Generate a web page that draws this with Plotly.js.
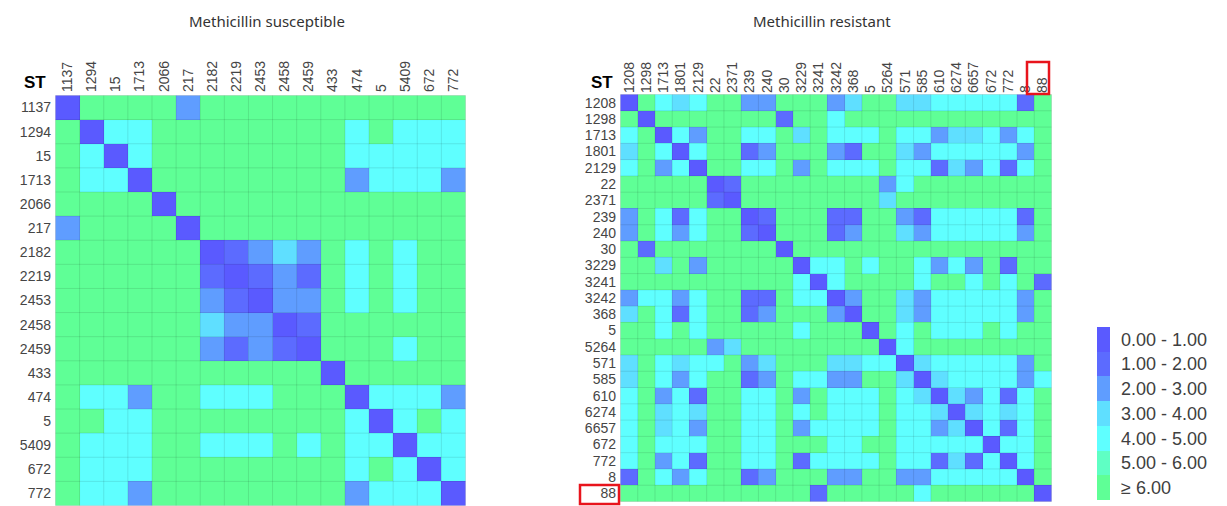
<!DOCTYPE html>
<html>
<head>
<meta charset="utf-8">
<script src="https://cdn.plot.ly/plotly-3.0.1.min.js"></script>
<style>html,body{margin:0;padding:0;background:#fff;}#chart{width:1227px;height:506px;}</style>
</head>
<body>
<div id="chart"></div>
<script>
// Distance classes: 0 = 0.00-1.00, 1 = 1.00-2.00, ..., 5 = 5.00-6.00, 6 = >= 6.00
const binLabels = ["0.00 - 1.00","1.00 - 2.00","2.00 - 3.00","3.00 - 4.00","4.00 - 5.00","5.00 - 6.00","\u2265 6.00"];
const binColors = ["#5a5aff","#5c6bff","#5f9dff","#5fdfff","#5fffff","#5fffc4","#5fff96"];
const legendBins = [[0],[1],[2],[3],[4],[5],[6]];

const msST = ["1137","1294","15","1713","2066","217","2182","2219","2453","2458","2459","433","474","5","5409","672","772"];
const msBins = [
  [0,6,6,6,6,2,6,6,6,6,6,6,6,6,6,6,6],
  [6,0,4,4,6,6,6,6,6,6,6,6,4,6,4,4,4],
  [6,4,0,4,6,6,6,6,6,6,6,6,4,4,4,4,4],
  [6,4,4,0,6,6,6,6,6,6,6,6,2,4,4,4,2],
  [6,6,6,6,0,6,6,6,6,6,6,6,6,6,6,6,6],
  [2,6,6,6,6,0,6,6,6,6,6,6,6,6,6,6,6],
  [6,6,6,6,6,6,0,1,2,3,2,6,4,6,4,6,6],
  [6,6,6,6,6,6,1,0,1,2,1,6,4,6,4,6,6],
  [6,6,6,6,6,6,2,1,0,2,2,6,4,6,4,6,6],
  [6,6,6,6,6,6,3,2,2,0,1,6,6,6,6,6,6],
  [6,6,6,6,6,6,2,1,2,1,0,6,6,6,4,6,6],
  [6,6,6,6,6,6,6,6,6,6,6,0,6,6,6,6,6],
  [6,4,4,2,6,6,4,4,4,6,6,6,0,4,4,4,2],
  [6,6,4,4,6,6,6,6,6,6,6,6,4,0,4,6,4],
  [6,4,4,4,6,6,4,4,4,6,4,6,4,4,0,4,4],
  [6,4,4,4,6,6,6,6,6,6,6,6,4,6,4,0,4],
  [6,4,4,2,6,6,6,6,6,6,6,6,2,4,4,4,0]
];

const mrST = ["1208","1298","1713","1801","2129","22","2371","239","240","30","3229","3241","3242","368","5","5264","571","585","610","6274","6657","672","772","8","88"];
const mrBins = [
  [0,6,4,3,4,6,6,2,2,6,6,6,2,3,6,6,3,3,4,4,4,4,4,1,6],
  [6,0,6,6,6,6,6,6,6,1,6,6,4,6,6,6,6,6,6,6,6,6,6,6,6],
  [4,6,0,4,2,6,6,4,4,6,3,6,4,4,4,6,4,4,2,3,3,4,2,4,6],
  [3,6,4,0,4,6,6,1,2,6,6,6,2,1,6,6,3,2,4,4,4,4,4,2,6],
  [4,6,2,4,0,6,6,4,4,6,2,6,4,4,4,6,4,4,1,3,2,4,1,4,6],
  [6,6,6,6,6,0,1,6,6,6,6,6,6,6,6,2,4,6,6,6,6,6,6,6,6],
  [6,6,6,6,6,1,0,6,6,6,6,6,6,6,6,3,6,6,6,6,6,6,6,6,6],
  [2,6,4,1,4,6,6,0,1,6,6,6,1,1,6,6,2,1,4,4,4,4,4,1,6],
  [2,6,4,2,4,6,6,1,0,6,6,6,1,2,6,6,3,2,4,4,4,4,4,2,6],
  [6,1,6,6,6,6,6,6,6,0,6,6,6,6,6,6,6,6,6,6,6,6,6,6,6],
  [6,6,3,6,2,6,6,6,6,6,0,4,4,6,4,6,6,4,2,4,2,6,1,6,6],
  [6,6,6,6,6,6,6,6,6,6,4,0,4,6,6,6,6,4,6,6,4,6,4,6,1],
  [2,4,4,2,4,6,6,1,1,6,4,4,0,2,6,6,3,2,4,4,4,4,4,2,6],
  [3,6,4,1,4,6,6,1,2,6,6,6,2,0,6,6,3,2,4,4,4,4,4,2,6],
  [6,6,4,6,4,6,6,6,6,6,4,6,6,6,0,6,4,6,4,4,4,6,4,6,6],
  [6,6,6,6,6,2,3,6,6,6,6,6,6,6,6,0,4,6,6,6,6,6,6,6,6],
  [3,6,4,3,4,4,6,2,3,6,6,6,3,3,4,4,0,3,4,4,4,4,4,2,6],
  [3,6,4,2,4,6,6,1,2,6,4,4,2,2,6,6,3,0,3,4,4,4,4,2,4],
  [4,6,2,4,1,6,6,4,4,6,2,6,4,4,4,6,4,3,0,3,2,4,1,4,6],
  [4,6,3,4,3,6,6,4,4,6,4,6,4,4,4,6,4,4,3,0,3,4,3,4,6],
  [4,6,3,4,2,6,6,4,4,6,2,4,4,4,4,6,4,4,2,3,0,4,1,4,6],
  [4,6,4,4,4,6,6,4,4,6,6,6,4,4,6,6,4,4,4,4,4,0,4,4,6],
  [4,6,2,4,1,6,6,4,4,6,1,4,4,4,4,6,4,4,1,3,1,4,0,4,6],
  [1,6,4,2,4,6,6,1,2,6,6,6,2,2,6,6,2,2,4,4,4,4,4,0,6],
  [6,6,6,6,6,6,6,6,6,6,6,1,6,6,6,6,6,4,6,6,6,6,6,6,0]
];

const W = 1227, H = 506;
const px = v => v / W;
const py = v => 1 - v / H;

const cs = [];
binColors.forEach((c, i) => { cs.push([i / 7, c]); cs.push([(i + 1) / 7, c]); });

const tickFont = {family: "Liberation Sans, Arial, sans-serif", size: 14, color: "#454545"};

const traces = [
  {type: "heatmap", x: msST, y: msST, z: msBins, colorscale: cs, zmin: -0.5, zmax: 6.5, showscale: false, xaxis: "x", yaxis: "y"},
  {type: "heatmap", x: mrST, y: mrST, z: mrBins, colorscale: cs, zmin: -0.5, zmax: 6.5, showscale: false, xaxis: "x2", yaxis: "y2"},
  {type: "heatmap", x: ["k"], y: binLabels, z: legendBins, colorscale: cs, zmin: -0.5, zmax: 6.5, showscale: false, xaxis: "x3", yaxis: "y3"}
];

function gridShapes(n, xr, yr) {
  const s = [];
  for (let i = 0; i <= n; i++) {
    s.push({type: "line", xref: xr, yref: yr, x0: i - 0.5, x1: i - 0.5, y0: -0.5, y1: n - 0.5, line: {color: "rgba(0,0,0,0.1)", width: 1}, layer: "above"});
    s.push({type: "line", xref: xr, yref: yr, y0: i - 0.5, y1: i - 0.5, x0: -0.5, x1: n - 0.5, line: {color: "rgba(0,0,0,0.1)", width: 1}, layer: "above"});
  }
  return s;
}

const shapes = [].concat(gridShapes(msST.length, "x", "y"), gridShapes(mrST.length, "x2", "y2"));
// red highlight boxes around the "88" labels
shapes.push({type: "rect", xref: "paper", yref: "paper", x0: px(1027), x1: px(1049), y0: py(94), y1: py(62), line: {color: "#e8141c", width: 2.5}});
shapes.push({type: "rect", xref: "paper", yref: "paper", x0: px(580), x1: px(619), y0: py(504), y1: py(485), line: {color: "#e8141c", width: 2.5}});

const axisCommon = {type: "category", showgrid: false, zeroline: false, showline: false, ticks: "", tickfont: tickFont, fixedrange: true};

const layout = {
  width: W, height: H,
  margin: {l: 0, r: 0, t: 0, b: 0},
  paper_bgcolor: "#ffffff", plot_bgcolor: "#ffffff",
  showlegend: false,
  xaxis: Object.assign({}, axisCommon, {domain: [px(55), px(466)], side: "top", tickangle: -90, anchor: "y", ticklabelstandoff: 2,
    tickmode: "array", tickvals: msST, ticktext: msST}),
  yaxis: Object.assign({}, axisCommon, {domain: [py(507), py(95)], autorange: "reversed", anchor: "x", ticklabelstandoff: 3,
    tickmode: "array", tickvals: msST, ticktext: msST}),
  xaxis2: Object.assign({}, axisCommon, {domain: [px(620), px(1052)], side: "top", tickangle: -90, anchor: "y2", ticklabelstandoff: 0,
    tickmode: "array", tickvals: mrST, ticktext: mrST}),
  yaxis2: Object.assign({}, axisCommon, {domain: [py(502), py(94)], autorange: "reversed", anchor: "x2", ticklabelstandoff: 3,
    tickmode: "array", tickvals: mrST, ticktext: mrST}),
  xaxis3: Object.assign({}, axisCommon, {domain: [px(1097), px(1110)], showticklabels: false, anchor: "y3"}),
  yaxis3: Object.assign({}, axisCommon, {domain: [py(500), py(327)], autorange: "reversed", side: "right", anchor: "x3",
    tickmode: "array", tickvals: binLabels, ticktext: binLabels,
    tickfont: {family: "Liberation Sans, Arial, sans-serif", size: 18, color: "#404040"}, ticklabelstandoff: 10}),
  shapes: shapes,
  annotations: [
    {text: "Methicillin susceptible", xref: "paper", yref: "paper", x: px(267), y: py(21), xanchor: "center", yanchor: "middle", showarrow: false, font: {family: "Noto Sans, Open Sans, sans-serif", size: 15, color: "#333"}},
    {text: "Methicillin resistant", xref: "paper", yref: "paper", x: px(822), y: py(21), xanchor: "center", yanchor: "middle", showarrow: false, font: {family: "Noto Sans, Open Sans, sans-serif", size: 15, color: "#333"}},
    {text: "<b>ST</b>", xref: "paper", yref: "paper", x: px(35), y: py(83), xanchor: "center", yanchor: "middle", showarrow: false, font: {family: "Liberation Sans, Arial, sans-serif", size: 17, color: "#000"}},
    {text: "<b>ST</b>", xref: "paper", yref: "paper", x: px(602), y: py(83), xanchor: "center", yanchor: "middle", showarrow: false, font: {family: "Liberation Sans, Arial, sans-serif", size: 17, color: "#000"}}
  ]
};

Plotly.newPlot("chart", traces, layout, {displayModeBar: false, staticPlot: true});
</script>
</body>
</html>
